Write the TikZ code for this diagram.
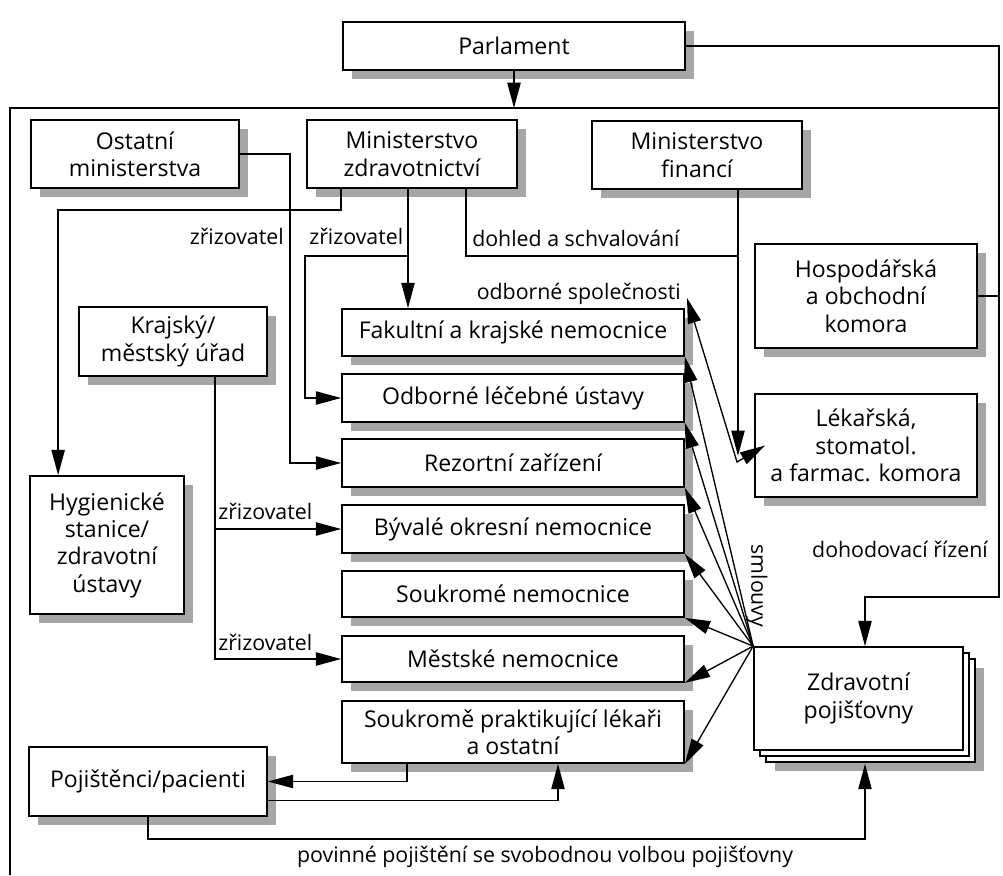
\documentclass[tikz,border=0pt]{standalone}
\usepackage{fontspec}
\setmainfont{Open Sans}
\usetikzlibrary{arrows.meta,shadows,calc}
\begin{document}
\begin{tikzpicture}[x=0.75pt,y=-0.75pt,
  box/.style={draw, line width=1.3pt, fill=white, align=center, inner sep=2pt,
    font=\fontsize{17.3}{20.5}\selectfont},
  stackbox/.style={box,
    general shadow={shadow xshift=9pt, shadow yshift=-9pt, draw, fill=white, line width=1.3pt},
    general shadow={shadow xshift=4.5pt, shadow yshift=-4.5pt, draw, fill=white, line width=1.3pt}},
  boxshadow/.style={fill=black, fill opacity=0.35, draw=none},
  wh/.style 2 args={minimum width=#1*0.75pt, minimum height=#2*0.75pt},
  conn/.style={line width=1pt},
  arr/.style={conn, -{Triangle[length=19pt,width=10pt]}},
  lbl/.style={font=\fontsize{16}{19}\selectfont, inner sep=0pt},
]
\useasboundingbox (0,0) rectangle (1003,875);

% frame
\coordinate (ftl) at (10,108);
\coordinate (ftr) at (999,108);
\coordinate (fbl) at (10,875);
\draw[conn] (ftr) -- (ftl) -- (fbl);

% shadows of the boxes
\foreach \cx/\cy/\w/\h/\o in {514/46/342/48/9, 135/154/208/68/9, 412/154/210/68/9,
    697/155/210/68/9, 866/296/222/104/9, 866/445.5/222/103/9, 173/341.5/188/69/9,
    107/545/154/138/9, 513/332.5/342/47/9, 513/398/342/48/9, 513/463/342/48/9,
    513/529/342/48/9, 513/594/342/46/9, 513/659/342/46/9, 513/732/342/62/9,
    148/781.5/238/69/9, 858.5/698.5/209/103/21}
  \fill[boxshadow] ({\cx-\w/2+\o},{\cy-\h/2+\o}) rectangle ({\cx+\w/2+\o},{\cy+\h/2+\o});

% boxes
\node[box, wh={342}{48}] (parl) at (514,46) {Parlament};
\node[box, wh={208}{68}] (ost) at (135,154) {Ostatní\\ministerstva};
\node[box, wh={210}{68}] (mzd) at (412,154) {Ministerstvo\\zdravotnictví};
\node[box, wh={210}{68}] (mfin) at (697,155) {Ministerstvo\\financí};
\node[box, wh={222}{104}] (hosp) at (866,296) {Hospodářská\\a obchodní\\komora};
\node[box, wh={222}{103}] (lek) at (866,445.5) {Lékařská,\\stomatol.\\a farmac. komora};
\node[box, wh={188}{69}] (kraj) at (173,341.5) {Krajský/\\městský úřad};
\node[box, wh={154}{138}] (hyg) at (107,545) {Hygienické\\stanice/\\zdravotní\\ústavy};
\node[box, wh={342}{47}] (fak) at (513,332.5) {Fakultní a krajské nemocnice};
\node[box, wh={342}{48}] (odb) at (513,398) {Odborné léčebné ústavy};
\node[box, wh={342}{48}] (rez) at (513,463) {Rezortní zařízení};
\node[box, wh={342}{48}] (byv) at (513,529) {Bývalé okresní nemocnice};
\node[box, wh={342}{46}] (souk) at (513,594) {Soukromé nemocnice};
\node[box, wh={342}{46}] (mest) at (513,659) {Městské nemocnice};
\node[box, wh={342}{62}] (prak) at (513,732) {Soukromě praktikující lékaři\\a ostatní};
\node[box, wh={238}{69}] (poj) at (148,781.5) {Pojištěnci/pacienti};
\node[stackbox, wh={209}{103}] (zdr) at (858.5,698.5) {Zdravotní\\pojišťovny};

% labels
\node[lbl, anchor=base east] (z1) at (284,244) {zřizovatel};
\node[lbl, anchor=base west] (z2) at (309,244) {zřizovatel};
\node[lbl, anchor=base west] (z3) at (218,519) {zřizovatel};
\node[lbl, anchor=base west] (z4) at (218,650) {zřizovatel};
\node[lbl, anchor=base west] (dohled) at (472,246) {dohled a schvalování};
\node[lbl, anchor=base east] (osp) at (681,299) {odborné společnosti};
\node[lbl] (dohod) at (900,549) {dohodovací řízení};
\node[lbl, rotate=-90] (smlouvy) at (757,586) {smlouvy};
\node[lbl] (povin) at (545,857) {povinné pojištění se svobodnou volbou pojišťovny};

% Parlament
\draw[arr] (parl.south) -- (parl.south |- ftl);
\coordinate (rb) at (999,597);
\coordinate (dz) at (865,597);
\draw[arr] (parl.east) -- (parl.east -| ftr) -- (rb) -- (dz) -- (dz |- zdr.north);
\draw[conn] (hosp.east) -- (hosp.east -| rb);

% Ostatni ministerstva -> Rezortni
\coordinate (o1) at ($(rez.west)+(-51,0)$);
\draw[arr] (ost.east) -| (o1) -- (rez.west);

% MZ -> Hygienicke
\coordinate (m0) at ($(mzd.south west)+(35,0)$);
\coordinate (m0b) at ($(m0)+(0,21)$);
\coordinate (h0) at ($(hyg.north west)+(29,0)$);
\draw[arr] (m0) -- (m0b) -| (h0);

% MZ -> Fakultni, Odborne
\coordinate (mz1) at ($(mzd.south)+(-4,0)$);
\draw[arr] (mz1) -- (mz1 |- fak.north);
\coordinate (b1) at ($(mz1)+(0,67)$);
\coordinate (o2) at ($(odb.west)+(-36,0)$);
\draw[arr] (b1) -| (o2) -- (odb.west);

% MZ, MF dohled
\coordinate (mz2) at ($(mzd.south)+(54,0)$);
\coordinate (mf1) at ($(mfin.south)+(41,0)$);
\coordinate (mf2) at ($(mf1)+(0,266)$);
\draw[conn] (mz2) |- (mf1 |- b1);
\draw[arr] (mf1) -- (mf2);

% Krajsky urad
\coordinate (k1) at ($(kraj.south)+(42,0)$);
\draw[arr] (k1) |- (mest.west);
\draw[arr] (k1 |- byv.west) -- (byv.west);

% Pojistenci
\coordinate (p1) at ($(prak.south)+(-106,0)$);
\draw[arr] (p1) |- (poj.east);
\coordinate (p2) at ($(poj.east)+(0,19)$);
\coordinate (p3) at ($(prak.south)+(45,0)$);
\draw[arr] (p2) -| (p3);
\coordinate (q2) at ($(zdr.south)+(6.5,13)$);
\coordinate (q3) at ($(q2)+(0,75)$);
\draw[arr] (poj.south) |- (q3) -- (q2);

% smlouvy fan
\foreach \n in {fak,odb,rez,byv,souk,mest,prak}
  \draw[arr] (zdr.north west) -- (\n.south east);

% odborne spolecnosti <-> lekarska komora
\coordinate (os1) at ($(osp.base east)+(6,-1)$);
\coordinate (os2) at (737,462);
\coordinate (os3) at ($(lek.west)+(11,0)$);
\draw[conn, {Triangle[length=19pt,width=10pt]}-{Triangle[length=19pt,width=10pt]}] (os1) -- (os2) -- (os3);
\end{tikzpicture}
\end{document}
